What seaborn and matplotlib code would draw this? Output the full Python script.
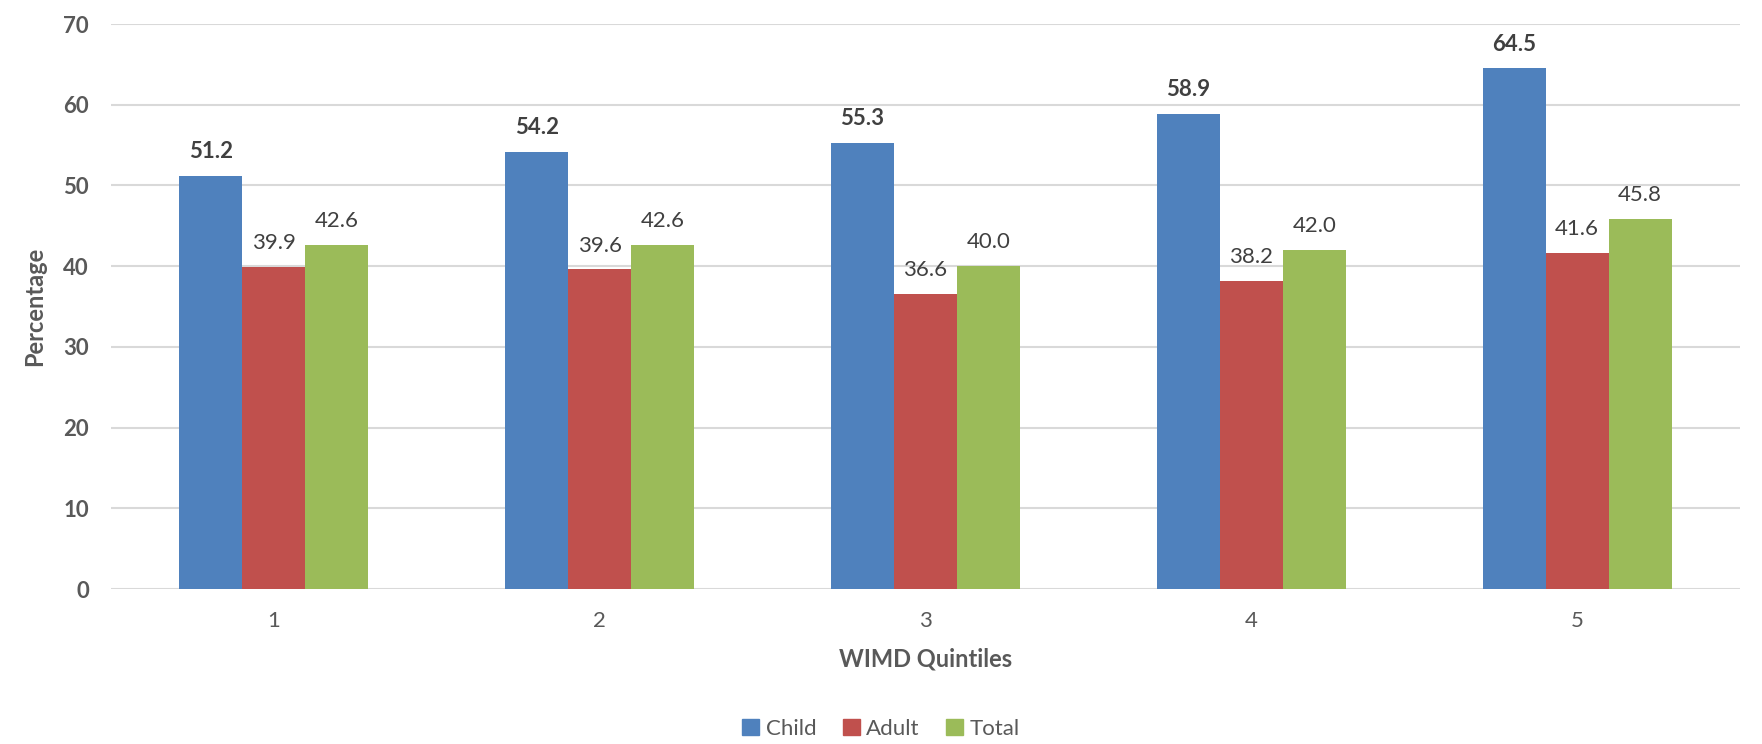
import pandas as pd
import matplotlib.pyplot as plt
import seaborn as sns

# chart data
quintiles = ['1', '2', '3', '4', '5']
child = [51.2, 54.2, 55.3, 58.9, 64.5]
adult = [39.9, 39.6, 36.6, 38.2, 41.6]
total = [42.6, 42.6, 40.0, 42.0, 45.8]
groups = ['Child', 'Adult', 'Total']
colors = ['#4F81BD', '#C0504D', '#9BBB59']

# long format for seaborn
data = pd.DataFrame({
    'Quintile': quintiles * 3,
    'Group': ['Child'] * 5 + ['Adult'] * 5 + ['Total'] * 5,
    'Percentage': child + adult + total
})

sns.set_style('white')
plt.rcParams['font.family'] = ['Lato', 'DejaVu Sans']

fig = plt.figure(figsize=(17.62, 7.44), dpi=100)
ax = fig.add_axes([0.063, 0.2083, 0.9245, 0.7594])

sns.barplot(
    data=data,
    x='Quintile',
    y='Percentage',
    hue='Group',
    hue_order=groups,
    palette=colors,
    width=0.58,
    gap=0,
    saturation=1,
    errorbar=None,
    linewidth=0,
    ax=ax
)

# data labels
for i, cont in enumerate(ax.containers):
    ax.bar_label(
        cont,
        labels=['%.1f' % v for v in cont.datavalues],
        padding=10,
        fontsize=16,
        color='#404040',
        fontweight='bold' if i == 0 else 'normal'
    )

ax.set_ylim(0, 70)
ax.set_yticks(range(0, 71, 10))
ax.grid(axis='y', color='#D9D9D9', linewidth=1.5)
ax.set_axisbelow(True)
sns.despine(ax=ax, left=True, top=True, right=True, bottom=True)

ax.tick_params(axis='y', length=0, pad=16, labelsize=16, labelcolor='#595959')
for t in ax.get_yticklabels():
    t.set_fontweight('bold')
ax.tick_params(axis='x', length=0, pad=16, labelsize=16, labelcolor='#595959')

ax.set_xlabel('WIMD Quintiles', fontsize=17, fontweight='bold', color='#595959', labelpad=12)
ax.set_ylabel('Percentage', fontsize=17, fontweight='bold', color='#595959', labelpad=12)

ax.get_legend().remove()
handles = [plt.Rectangle((0, 0), 1, 1, color=c) for c in colors]
fig.legend(
    handles,
    groups,
    loc='lower center',
    bbox_to_anchor=(0.5, -0.02),
    ncol=3,
    frameon=False,
    fontsize=16,
    labelcolor='#595959',
    handlelength=0.75,
    handleheight=0.75,
    handletextpad=0.3,
    columnspacing=1.2
)

plt.savefig('out.png', dpi=100)
